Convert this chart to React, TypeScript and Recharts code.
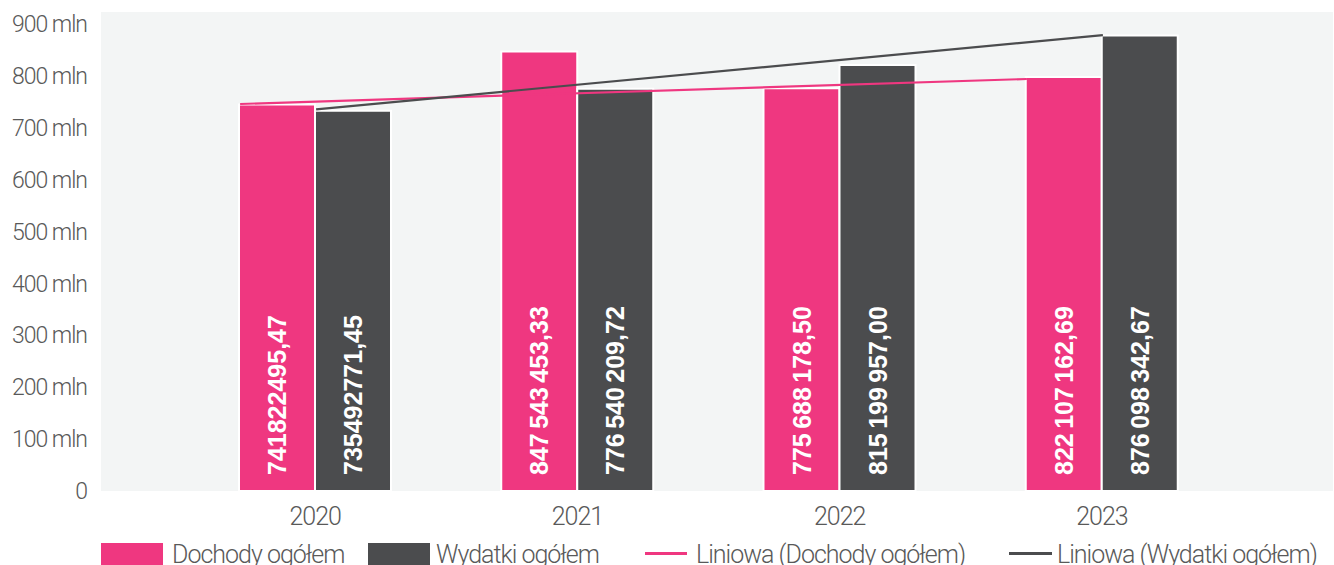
import React from 'react';
import { ComposedChart, Bar, Line, XAxis, YAxis, CartesianGrid, Legend, LabelList } from 'recharts';

const years = ['2020', '2021', '2022', '2023'];
const dochody = [745, 847, 776, 798];
const wydatki = [733, 775, 821, 878];
const dochodyLabels = ['741822495,47', '847 543 453,33', '775 688 178,50', '822 107 162,69'];
const wydatkiLabels = ['735492771,45', '776 540 209,72', '815 199 957,00', '876 098 342,67'];
const trendDochody = [745.8, null, null, 794.0];
const trendWydatki = [735.5, null, null, 878.5];
const yTicks = [0, 100, 200, 300, 400, 500, 600, 700, 800, 900];
const legendLabels = ['Dochody ogółem', 'Wydatki ogółem', 'Liniowa (Dochody ogółem)', 'Liniowa (Wydatki ogółem)'];

const PINK = '#ef3780';
const DARK = '#4b4c4e';
const TEXT = '#595959';

const data = years.map((y, i) => ({
  year: y,
  dochody: dochody[i],
  wydatki: wydatki[i],
  dLabel: dochodyLabels[i],
  wLabel: wydatkiLabels[i],
  tD: trendDochody[i],
  tW: trendWydatki[i],
}));

const barLabel = (props: any) => {
  const { x, y, width, height, value } = props;
  const cx = Number(x) + Number(width) / 2;
  const by = Number(y) + Number(height) - 16;
  return (
    <text
      x={cx}
      y={by}
      transform={`rotate(-90, ${cx}, ${by})`}
      textAnchor="start"
      dominantBaseline="central"
      fill="#ffffff"
      fontFamily="'Liberation Sans Narrow', 'Arial Narrow', 'Liberation Sans', sans-serif"
      fontWeight={700}
      fontSize={25}
      wordSpacing={-2.5}
    >
      {value}
    </text>
  );
};

const legendFont = { fontFamily: 'Roboto, sans-serif', fontWeight: 300, fontSize: 25, letterSpacing: -1 } as const;

const renderLegend = () => (
  <svg width={1334} height={30} style={{ display: 'block' }}>
    <rect x={101} y={8} width={62} height={24} fill={PINK} />
    <text x={172} y={28} fill={TEXT} {...legendFont}>{legendLabels[0]}</text>
    <rect x={368} y={8} width={62} height={24} fill={DARK} />
    <text x={436} y={28} fill={TEXT} {...legendFont}>{legendLabels[1]}</text>
    <rect x={645} y={17} width={42} height={3} fill={PINK} />
    <text x={696} y={28} fill={TEXT} {...legendFont}>{legendLabels[2]}</text>
    <rect x={1009} y={17} width={43} height={3} fill={DARK} />
    <text x={1057} y={28} fill={TEXT} {...legendFont}>{legendLabels[3]}</text>
  </svg>
);

export default function App() {
  return (
    <div style={{ position: 'absolute', left: 0, top: 0, width: 1334, height: 565, background: '#fff' }}>
      <ComposedChart
        width={1334}
        height={565}
        data={data}
        margin={{ top: 12, right: 1, bottom: 0, left: 0 }}
        barGap={0}
        barSize={76}
      >
        <CartesianGrid fill="#f3f5f5" horizontal={false} vertical={false} stroke="none" />
        <XAxis
          dataKey="year"
          xAxisId="main"
          height={44}
          padding={{ left: 83, right: 100 }}
          axisLine={false}
          tickLine={false}
          tickSize={0}
          tickMargin={16}
          tick={{ fill: TEXT, fontSize: 25, fontFamily: 'Roboto, sans-serif', fontWeight: 300, letterSpacing: -1 }}
        />
        <XAxis dataKey="year" xAxisId="pinkTrend" hide height={0} padding={{ left: 8, right: 175 }} />
        <XAxis dataKey="year" xAxisId="darkTrend" hide height={0} padding={{ left: 84, right: 99 }} />
        <YAxis
          width={101}
          domain={[0, 923.1]}
          ticks={yTicks}
          interval={0}
          allowDataOverflow
          axisLine={false}
          tickLine={false}
          tickSize={0}
          tickMargin={14}
          tickFormatter={(v: number) => (v === 0 ? '0' : `${v} mln`)}
          tick={{ fill: TEXT, fontSize: 23, fontFamily: 'Roboto, sans-serif', fontWeight: 300, letterSpacing: -1 }}
        />
        <Bar dataKey="dochody" xAxisId="main" fill={PINK} stroke="#ffffff" strokeWidth={2} isAnimationActive={false}>
          <LabelList dataKey="dLabel" content={barLabel} />
        </Bar>
        <Bar dataKey="wydatki" xAxisId="main" fill={DARK} stroke="#ffffff" strokeWidth={2} isAnimationActive={false}>
          <LabelList dataKey="wLabel" content={barLabel} />
        </Bar>
        <Line dataKey="tD" xAxisId="pinkTrend" stroke={PINK} strokeWidth={2.2} dot={false} activeDot={false} connectNulls isAnimationActive={false} />
        <Line dataKey="tW" xAxisId="darkTrend" stroke={DARK} strokeWidth={2.2} dot={false} activeDot={false} connectNulls isAnimationActive={false} />
        <Legend content={renderLegend} wrapperStyle={{ position: 'absolute', left: 0, top: 535, width: 1334, height: 30 }} />
      </ComposedChart>
    </div>
  );
}
